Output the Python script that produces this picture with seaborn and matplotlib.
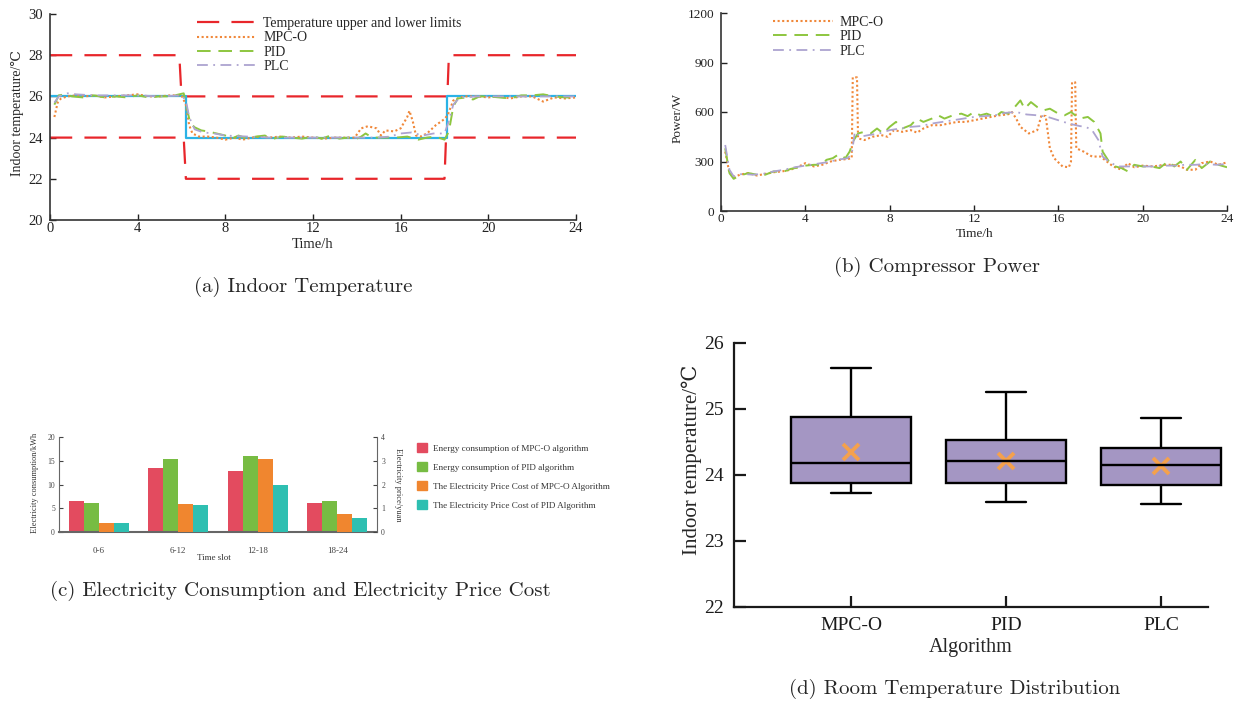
import numpy as np
import pandas as pd
import matplotlib
matplotlib.use('Agg')
import matplotlib.pyplot as plt
from matplotlib.lines import Line2D
from matplotlib.patches import Patch
import seaborn as sns

sns.set_style('ticks')
plt.rcParams['font.family'] = ['Liberation Serif', 'DejaVu Serif']
CAPTION_FONT = ['cmr10', 'DejaVu Serif']

# ---------------- (a) indoor temperature ----------------
limit_up_t = [0, 5.9, 6.0, 18.13, 18.2, 24]
limit_up = [28, 28, 26, 26, 28, 28]
limit_low_t = [0, 6.1, 6.2, 18.0, 18.07, 24]
limit_low = [24, 24, 22, 22, 24, 24]
setpoint_t = [0, 6.22, 6.22, 18.13, 18.13, 24]
setpoint = [26, 26, 24, 24, 26, 26]

temp_mpc_t = [0.2, 0.35, 0.5, 0.8, 1.2, 1.6, 2.0, 2.5, 3.0, 3.5, 4.0, 4.5, 5.0, 5.5, 6.0,
              6.2, 6.35, 6.5, 6.8, 7.2, 7.6, 8.0, 8.4, 8.8, 9.2, 9.6, 10.0, 10.5, 11.0,
              11.5, 12.0, 12.5, 13.0, 13.5, 13.9, 14.2, 14.5, 14.9, 15.1, 15.3, 15.7, 16.0,
              16.3, 16.4, 16.55, 16.7, 16.9, 17.2, 17.6, 18.0, 18.15, 18.4, 18.7, 19.0,
              19.5, 20.0, 20.5, 21.0, 21.5, 22.0, 22.5, 23.0, 23.5, 24.0]
temp_mpc = [25.0, 25.7, 25.9, 26.0, 26.05, 26.0, 26.05, 25.95, 26.0, 26.05, 26.1, 26.0, 26.0,
            26.05, 26.05, 25.6, 24.6, 24.2, 24.05, 24.05, 24.0, 23.9, 24.0, 23.9, 24.0, 24.05,
            24.0, 24.05, 24.0, 24.05, 24.0, 23.95, 24.0, 24.0, 24.0, 24.45, 24.55, 24.45, 24.1,
            24.35, 24.3, 24.45, 25.0, 25.3, 24.8, 24.1, 24.05, 24.2, 24.6, 24.9, 25.1, 25.8,
            25.95, 26.0, 26.0, 25.95, 26.0, 25.9, 26.0, 26.0, 25.75, 25.95, 25.9, 25.95]

temp_pid_t = [0.2, 0.4, 0.7, 1.0, 1.5, 2.0, 2.5, 3.0, 3.5, 4.0, 4.5, 5.0, 5.5, 5.9, 6.1, 6.25,
              6.4, 6.6, 6.9, 7.2, 7.6, 8.0, 8.3, 8.6, 9.0, 9.4, 9.8, 10.2, 10.6, 11.0, 11.5,
              12.0, 12.4, 12.8, 13.2, 13.6, 13.9, 14.2, 14.4, 14.7, 15.2, 15.8, 16.3, 16.8,
              17.2, 17.6, 18.0, 18.2, 18.4, 18.6, 19.0, 19.3, 19.6, 20.0, 20.5, 21.0, 21.5,
              22.0, 22.5, 23.0, 23.5, 24.0]
temp_pid = [25.6, 26.05, 26.1, 26.0, 25.95, 26.05, 25.95, 26.0, 25.95, 26.05, 25.95, 26.0,
            26.0, 26.1, 26.15, 25.4, 24.7, 24.5, 24.35, 24.3, 24.2, 24.1, 23.95, 24.1, 23.95,
            24.05, 24.1, 23.95, 24.05, 24.0, 23.95, 24.05, 23.95, 24.1, 23.95, 24.0, 23.9,
            24.05, 24.2, 24.0, 24.0, 24.0, 24.05, 23.9, 24.0, 24.05, 23.9, 24.3, 25.5, 25.9,
            25.95, 25.85, 26.0, 26.0, 25.95, 25.9, 26.05, 26.05, 26.1, 26.0, 25.95, 25.95]

temp_plc_t = [0.2, 0.4, 0.8, 1.2, 2.0, 3.0, 4.0, 5.0, 6.0, 6.2, 6.35, 6.6, 7.0, 7.5, 8.0, 9.0,
              10.0, 11.0, 12.0, 13.0, 14.0, 15.0, 15.5, 16.0, 16.5, 17.0, 17.5, 18.0, 18.2,
              18.4, 18.7, 19.5, 20.5, 21.5, 22.5, 23.5, 24.0]
temp_plc = [25.7, 26.0, 26.15, 26.1, 26.05, 26.05, 26.05, 26.0, 26.05, 25.8, 25.0, 24.4,
            24.25, 24.2, 24.1, 24.05, 24.0, 24.0, 24.0, 24.0, 24.0, 24.0, 24.05, 24.2, 24.25,
            24.1, 24.2, 24.2, 24.8, 25.6, 25.95, 26.0, 26.0, 26.0, 26.0, 26.0, 26.0]

# ---------------- (b) compressor power ----------------
pow_mpc_t = [0.2, 0.4, 0.6, 0.9, 1.3, 1.7, 2.1, 2.5, 2.9, 3.3, 3.7, 4.0, 4.4, 4.8, 5.2, 5.6,
             6.0, 6.2, 6.25, 6.45, 6.5, 6.8, 7.2, 7.6, 7.9, 8.2, 8.6, 9.0, 9.3, 9.6, 10.0,
             10.4, 10.8, 11.2, 11.6, 12.0, 12.4, 12.8, 13.2, 13.6, 13.8, 14.0, 14.2, 14.6,
             15.0, 15.2, 15.4, 15.6, 15.8, 16.2, 16.5, 16.6, 16.65, 16.8, 16.85, 17.2, 17.6,
             18.0, 18.3, 18.6, 19.0, 19.3, 19.6, 20.0, 20.5, 21.0, 21.4, 21.8, 22.1, 22.5,
             22.8, 23.2, 23.6, 24.0]
pow_mpc = [360, 230, 205, 220, 230, 215, 225, 235, 240, 250, 270, 290, 270, 280, 300, 310,
           315, 320, 810, 810, 440, 430, 450, 460, 450, 490, 480, 490, 475, 500, 520, 520,
           530, 540, 540, 550, 560, 570, 580, 585, 600, 560, 510, 470, 490, 580, 575, 380,
           320, 270, 265, 300, 780, 780, 380, 360, 330, 330, 300, 270, 250, 290, 265, 275,
           270, 280, 280, 270, 250, 250, 290, 300, 280, 295]

pow_pid_t = [0.2, 0.4, 0.6, 0.9, 1.3, 1.7, 2.1, 2.5, 2.9, 3.3, 3.7, 4.0, 4.4, 4.8, 5.0, 5.3,
             5.6, 5.9, 6.1, 6.3, 6.5, 6.8, 7.1, 7.4, 7.7, 8.0, 8.3, 8.6, 9.0, 9.3, 9.6, 10.0,
             10.3, 10.6, 11.0, 11.4, 11.7, 12.0, 12.3, 12.6, 13.0, 13.3, 13.6, 13.8, 14.0,
             14.2, 14.4, 14.7, 15.0, 15.3, 15.6, 16.0, 16.3, 16.6, 17.0, 17.4, 17.7, 18.0,
             18.1, 18.4, 18.7, 19.0, 19.3, 19.6, 20.0, 20.4, 20.8, 21.2, 21.5, 21.8, 22.1,
             22.5, 22.8, 23.2, 23.6, 24.0]
pow_pid = [380, 230, 195, 215, 230, 220, 220, 240, 235, 255, 265, 275, 280, 280, 310, 320,
           345, 320, 360, 430, 470, 480, 470, 500, 470, 510, 540, 500, 520, 560, 540, 560,
           580, 560, 580, 590, 575, 600, 580, 590, 570, 600, 590, 610, 640, 670, 620, 660,
           630, 610, 620, 590, 580, 600, 560, 570, 540, 470, 360, 300, 270, 260, 240, 280,
           270, 270, 260, 300, 270, 300, 250, 310, 260, 300, 280, 265]

pow_plc_t = [0.2, 0.4, 0.6, 1.0, 1.5, 2.0, 2.5, 3.0, 3.5, 4.0, 4.5, 5.0, 5.5, 6.0, 6.2, 6.35,
             6.6, 7.0, 7.5, 8.0, 8.5, 9.0, 9.5, 10.0, 10.5, 11.0, 11.5, 12.0, 12.5, 13.0,
             13.5, 14.0, 14.5, 15.0, 15.5, 16.0, 16.5, 17.0, 17.3, 17.6, 17.9, 18.1, 18.4,
             18.8, 19.2, 19.6, 20.0, 20.5, 21.0, 21.5, 22.0, 22.5, 23.0, 23.5, 24.0]
pow_plc = [400, 250, 210, 225, 220, 225, 240, 250, 265, 275, 285, 295, 310, 320, 345, 480,
           450, 460, 470, 490, 500, 510, 515, 530, 540, 550, 560, 570, 575, 580, 595, 600,
           585, 580, 570, 550, 530, 515, 510, 490, 430, 330, 300, 270, 270, 270, 270, 270,
           275, 275, 280, 280, 285, 280, 285]

# ---------------- (c) consumption and cost ----------------
slots = ['0-6', '6-12', '12-18', '18-24']
energy_mpc = [6.45, 13.4, 12.85, 6.1]
energy_pid = [6.15, 15.3, 16.1, 6.45]
cost_mpc = [0.39, 1.18, 3.07, 0.75]
cost_pid = [0.39, 1.14, 1.98, 0.59]
bar_labels = ['Energy consumption of MPC-O algorithm',
              'Energy consumption of PID algorithm',
              'The Electricity Price Cost of MPC-O Algorithm',
              'The Electricity Price Cost of PID Algorithm']
bar_colors = ['#E34B5F', '#77BC43', '#F0862F', '#2EBFB1']

# ---------------- (d) room temperature distribution ----------------
algorithms = ['MPC-O', 'PID', 'PLC']
whisker_low = [23.73, 23.58, 23.55]
q1 = [23.87, 23.88, 23.85]
median = [24.17, 24.20, 24.14]
q3 = [24.88, 24.52, 24.41]
whisker_high = [25.61, 25.26, 24.86]
mean = [24.35, 24.20, 24.13]

RED = '#E8262B'
ORANGE = '#F0883A'
GREEN = '#8DC63F'
PURPLE = '#ADA4D0'
CYAN = '#2AB3E6'

W, H = 1239, 704
fig = plt.figure(figsize=(W / 100, H / 100), dpi=100)


def px_axes(left, top, right, bottom):
    return fig.add_axes([left / W, 1 - bottom / H, (right - left) / W, (bottom - top) / H])


def style_axis(ax, size, length):
    sns.despine(ax=ax)
    ax.tick_params(axis='y', direction='in', length=length, width=1.0, labelsize=size, pad=5,
                   colors='#222222')
    ax.tick_params(axis='x', direction='in', length=length, width=1.0, labelsize=size, pad=1.5,
                   colors='#222222')
    for s in ['left', 'bottom']:
        ax.spines[s].set_linewidth(1.2)
        ax.spines[s].set_color('#333333')


def trace(x, y, ax, **kw):
    sns.lineplot(x=x, y=y, estimator=None, sort=False, ax=ax, **kw)


# ---- (a)
ax = px_axes(50, 14, 576, 220)
dash_lim = (0, (10, 5.5))
trace(limit_up_t, limit_up, ax, color=RED, lw=1.6, ls=dash_lim)
trace(limit_low_t, limit_low, ax, color=RED, lw=1.6, ls=dash_lim)
trace(setpoint_t, setpoint, ax, color=CYAN, lw=1.6)
trace(temp_mpc_t, temp_mpc, ax, color=ORANGE, lw=1.5, ls=(0, (1, 1.2)))
trace(temp_pid_t, temp_pid, ax, color=GREEN, lw=1.4, ls=(0, (7, 4)))
trace(temp_plc_t, temp_plc, ax, color=PURPLE, lw=1.3, ls=(0, (6, 3, 1, 3)))
ax.set_xlim(0, 24)
ax.set_ylim(20, 30)
ax.set_xticks(range(0, 25, 4))
ax.set_yticks(range(20, 31, 2))
style_axis(ax, 10.5, 4)
ax.set_xlabel('Time/h', fontsize=10.5, va='center')
ax.set_ylabel('Indoor temperature/℃', fontsize=10, va='center')
ax.xaxis.set_label_coords(0.5, -0.118)
ax.yaxis.set_label_coords(-0.061, 0.517)
handles = [Line2D([], [], color=RED, lw=1.6, ls=dash_lim),
           Line2D([], [], color=ORANGE, lw=1.5, ls=(0, (1, 1.2))),
           Line2D([], [], color=GREEN, lw=1.4, ls=(0, (7, 4))),
           Line2D([], [], color=PURPLE, lw=1.3, ls=(0, (6, 3, 1, 3)))]
ax.legend(handles, ['Temperature upper and lower limits', 'MPC-O', 'PID', 'PLC'],
          loc='upper left', bbox_to_anchor=(0.279, 0.985), frameon=False, fontsize=10,
          handlelength=4.3, handletextpad=0.5, labelspacing=0.1, borderpad=0, borderaxespad=0)

# ---- (b)
ax = px_axes(721, 13, 1227, 211)
trace(pow_mpc_t, pow_mpc, ax, color=ORANGE, lw=1.5, ls=(0, (1, 1.2)))
trace(pow_pid_t, pow_pid, ax, color=GREEN, lw=1.4, ls=(0, (7, 4)))
trace(pow_plc_t, pow_plc, ax, color=PURPLE, lw=1.3, ls=(0, (6, 3, 1, 3)))
ax.set_xlim(0, 24)
ax.set_ylim(0, 1200)
ax.set_xticks(range(0, 25, 4))
ax.set_yticks(range(0, 1201, 300))
style_axis(ax, 9.5, 4)
ax.set_xlabel('Time/h', fontsize=9.5, va='center')
ax.set_ylabel('Power/W', fontsize=9.5, va='center')
ax.xaxis.set_label_coords(0.502, -0.115)
ax.yaxis.set_label_coords(-0.085, 0.47)
ax.legend(handles[1:], ['MPC-O', 'PID', 'PLC'], loc='upper left',
          bbox_to_anchor=(0.103, 0.985), frameon=False, fontsize=10, handlelength=4.3,
          handletextpad=0.5, labelspacing=0.1, borderpad=0, borderaxespad=0)

# ---- (c)
ax = px_axes(59, 437, 377, 532)
df_energy = pd.DataFrame({'slot': slots * 2, 'value': energy_mpc + energy_pid,
                          'series': [bar_labels[0]] * 4 + [bar_labels[1]] * 4})
df_cost = pd.DataFrame({'slot': slots * 2, 'value': cost_mpc + cost_pid,
                        'series': [bar_labels[2]] * 4 + [bar_labels[3]] * 4})
pal = dict(zip(bar_labels, bar_colors))
sns.barplot(df_energy, x='slot', y='value', hue='series', hue_order=bar_labels, palette=pal,
            order=slots, width=0.76, gap=0, saturation=1, errorbar=None, legend=False,
            linewidth=0, ax=ax)
ax2 = ax.twinx()
sns.barplot(df_cost, x='slot', y='value', hue='series', hue_order=bar_labels, palette=pal,
            order=slots, width=0.76, gap=0, saturation=1, errorbar=None, legend=False,
            linewidth=0, ax=ax2)
ax.set_ylim(0, 20)
ax2.set_ylim(0, 4)
ax.set_xlim(-0.5, 3.5)
ax.set_yticks(range(0, 21, 5))
ax2.set_yticks(range(0, 5))
for a in (ax, ax2):
    for s in a.spines.values():
        s.set_visible(False)
    a.tick_params(axis='y', direction='in', length=3, width=0.8, labelsize=5.5, pad=3,
                  colors='#444444')
    a.tick_params(axis='x', length=0, labelsize=6.5, pad=11, colors='#444444')
ax.spines['left'].set_visible(True)
ax.spines['bottom'].set_visible(True)
ax2.spines['right'].set_visible(True)
for s in [ax.spines['left'], ax.spines['bottom'], ax2.spines['right']]:
    s.set_color('#666666')
ax.spines['bottom'].set_linewidth(1.5)
ax.set_xlabel('Time slot', fontsize=6.5, va='center', color='#333333')
ax.set_ylabel('Electricity consumption/kWh', fontsize=6, va='center', color='#333333')
ax2.set_ylabel('Electricity price/yuan', fontsize=6, va='center', rotation=270,
               color='#333333')
ax.xaxis.set_label_coords(0.487, -0.27)
ax.yaxis.set_label_coords(-0.075, 0.516)
ax2.yaxis.set_label_coords(1.066, 0.5)
fig.legend([Patch(color=c) for c in bar_colors], bar_labels, loc='upper left',
           bbox_to_anchor=(417 / W, 1 - 443 / H), frameon=False, fontsize=6.6,
           handlelength=1.1, handleheight=1.1, handletextpad=0.6, labelspacing=1.05,
           borderpad=0, borderaxespad=0, labelcolor='#333333')

# ---- (d)
ax = px_axes(733.5, 342.7, 1230, 606.7)
df_box = pd.DataFrame({
    'Algorithm': [a for a in algorithms for _ in range(5)],
    'Temperature': [v for i in range(len(algorithms))
                    for v in (whisker_low[i], q1[i], median[i], q3[i], whisker_high[i])]})
sns.boxplot(df_box, x='Algorithm', y='Temperature', order=algorithms, color='#A496C3',
            saturation=1, width=0.77, whis=(0, 100), linewidth=1.7, linecolor='black',
            capwidths=0.26, ax=ax)
sns.pointplot(x=algorithms, y=mean, order=algorithms, color='#F4A14D', marker='x',
              linestyle='none', markersize=11, markeredgewidth=2.8, errorbar=None, ax=ax)
ax.set_xlim(-0.758, 2.445)
ax.set_ylim(22, 26)
ax.set_yticks([22, 23, 24, 25, 26])
sns.despine(ax=ax)
ax.spines['bottom'].set_bounds(-0.758, 2.303)
for s in ['left', 'bottom']:
    ax.spines[s].set_linewidth(1.6)
    ax.spines[s].set_color('#1a1a1a')
ax.tick_params(axis='y', direction='in', length=8.5, width=1.6, labelsize=14, pad=7,
               colors='#1a1a1a')
ax.tick_params(axis='x', direction='in', length=7.7, width=1.6, labelsize=14, pad=7.5,
               colors='#1a1a1a')
ax.set_xlabel('Algorithm', fontsize=14.5, va='center')
ax.set_ylabel('Indoor temperature/℃', fontsize=15, va='center')
ax.xaxis.set_label_coords(0.478, -0.156)
ax.yaxis.set_label_coords(-0.0836, 0.556)

# ---- captions
caption_kw = dict(ha='center', va='center', fontsize=15, family=CAPTION_FONT)
fig.text(303 / W, 1 - 287 / H, '(a) Indoor Temperature', **caption_kw)
fig.text(937 / W, 1 - 267 / H, '(b) Compressor Power', **caption_kw)
fig.text(300 / W, 1 - 591 / H, '(c) Electricity Consumption and Electricity Price Cost',
         **caption_kw)
fig.text(955 / W, 1 - 689 / H, '(d) Room Temperature Distribution', **caption_kw)

fig.savefig('out.png', dpi=100)
